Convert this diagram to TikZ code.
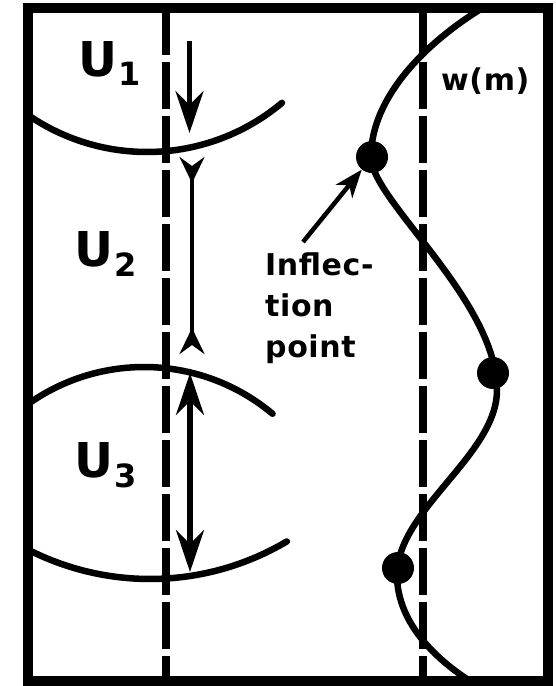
\documentclass[tikz,border=0pt]{standalone}
\usepackage{fontspec}
\setmainfont{DejaVu Sans}
\usetikzlibrary{arrows.meta}
\begin{document}
\begin{tikzpicture}[x=1pt,y=-1pt,
  frameline/.style={line width=10pt},
  dashline/.style={line width=8.5pt, dash pattern=on 47pt off 7pt},
  arcline/.style={line width=6.5pt, line cap=round},
  bighead/.tip={Stealth[length=42pt,width=28pt,inset=14pt]},
  smallhead/.tip={Stealth[length=26pt,width=25pt,inset=9pt,reversed]},
  pointhead/.tip={Stealth[length=28pt,width=21pt,inset=8pt]},
  bigarrow/.style={line width=5.5pt},
  midarrow/.style={line width=4pt},
  dotnode/.style={circle, fill=black, inner sep=0pt, minimum size=32pt},
  ulabel/.style={anchor=base west, inner sep=0pt, font=\bfseries\fontsize{48}{48}\selectfont},
  txt/.style={inner sep=0pt, font=\bfseries\fontsize{30}{41}\selectfont\addfontfeatures{LetterSpace=2}}
]
\useasboundingbox (0,0) rectangle (556,686);
\fill[white] (0,0) rectangle (556,686);

\begin{scope}
\clip (28,8) rectangle (548,681);
% U arcs
\draw[arcline] plot[domain=-36:40, samples=60] ({147+210*sin(\x)}, {-58+210*cos(\x)});
\draw[arcline] plot[domain=-38:40, samples=60] ({144+200*sin(\x)}, {567-200*cos(\x)});
\draw[arcline] plot[domain=-30:30.7, samples=60] ({150+268*sin(\x)}, {311+268*cos(\x)});
% dashed lines
\coordinate (l1t) at (166,8);
\coordinate (l1b) at (166,681);
\coordinate (l2t) at (423,8);
\coordinate (l2b) at (423,681);
\draw[dashline] (l1t) -- (l1b);
\draw[dashline] (l2t) -- (l2b);
% w(m) curve
\draw[arcline] (500,-2) .. controls (440,30) and (371,90) .. (371,157)
  .. controls (371,200) and (497,300) .. (497,390)
  .. controls (497,455) and (397,510) .. (397,575)
  .. controls (397,625) and (440,665) .. (485,690);
\end{scope}

% dots
\node[dotnode] (d1) at (372,157) {};
\node[dotnode] (d2) at (493,373) {};
\node[dotnode] (d3) at (398,568) {};

% arrows
\coordinate (a1s) at (189.5,41);
\coordinate (a1e) at (189.5,133);
\draw[bigarrow, -{bighead}] (a1s) -- (a1e);
\coordinate (a2s) at (192,157);
\coordinate (a2e) at (192,354);
\draw[midarrow, {smallhead}-{smallhead}] (a2s) -- (a2e);
\coordinate (a3s) at (190,373);
\coordinate (a3e) at (190,572);
\draw[bigarrow, {bighead}-{bighead}] (a3s) -- (a3e);

% labels
\node[ulabel] (u1) at (78,76) {U\kern1pt\raisebox{-9pt}{\fontsize{32}{32}\selectfont 1}};
\node[ulabel] (u2) at (74,266) {U\kern1pt\raisebox{-10pt}{\fontsize{32}{32}\selectfont 2}};
\node[ulabel] (u3) at (74,477) {U\kern1pt\raisebox{-10pt}{\fontsize{32}{32}\selectfont 3}};
\node[txt, anchor=base west] (wm) at (441,90) {w(m)};
\node[txt, anchor=north west, align=left] (infl) at (265,253) {Inflec-\\tion\\point};

\coordinate (ia) at (303,242);
\draw[midarrow, line width=4.5pt, -{pointhead}] (ia) -- (d1);

% frame
\draw[frameline] (28,8) rectangle (548,681);
\end{tikzpicture}
\end{document}
